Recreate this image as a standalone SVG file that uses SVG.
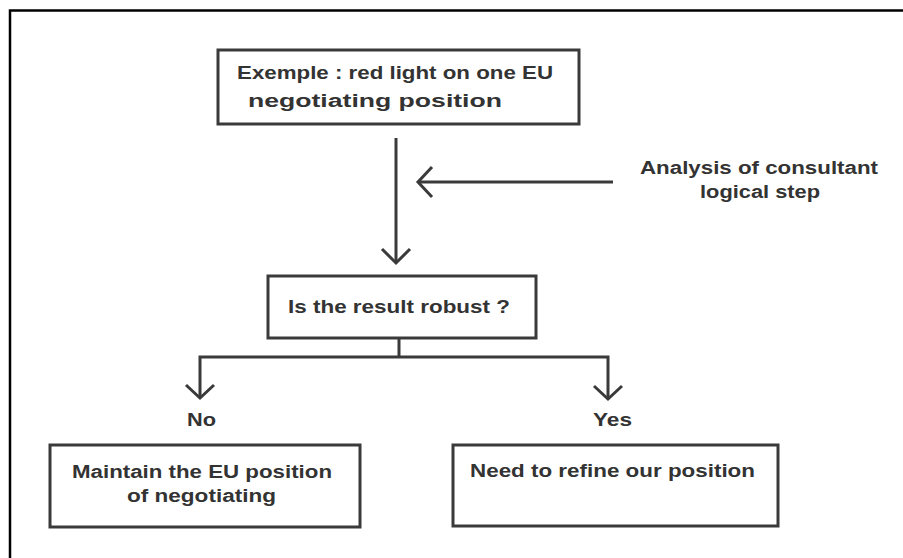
<svg xmlns="http://www.w3.org/2000/svg" width="903" height="558" viewBox="0 0 903 558">
<style>
.box{fill:#fff;stroke:#3a3a3a;stroke-width:3}
.ln{fill:none;stroke:#3a3a3a;stroke-width:3}
.t{font-family:"Liberation Sans",Arial,sans-serif;font-weight:bold;font-size:18px;fill:#333}
</style>
<rect width="903" height="558" fill="#fff"/>
<path d="M10,558 V10.5 H903" fill="none" stroke="#000" stroke-width="2.5"/>
<g id="connectors">
<path class="ln" d="M396,138 V262"/>
<path class="ln" d="M382,249 L396,263 L410,249"/>
<path class="ln" d="M613,182 H420"/>
<path class="ln" d="M432,167 L418,182 L432,197"/>
<path class="ln" d="M399,338 V357 M200,397 V357 H608 V398"/>
<path class="ln" d="M186,385 L200,398 L214,385"/>
<path class="ln" d="M594,386 L608,399 L622,386"/>
</g>
<g id="n1">
<rect class="box" x="218" y="50" width="361" height="74"/>
<text class="t" x="237" y="79" textLength="316" lengthAdjust="spacingAndGlyphs">Exemple : red light on one EU</text>
<text class="t" x="248" y="107" textLength="254" lengthAdjust="spacingAndGlyphs">negotiating position</text>
</g>
<g id="n2">
<text class="t" x="640" y="174" textLength="238" lengthAdjust="spacingAndGlyphs">Analysis of consultant</text>
<text class="t" x="700" y="198" textLength="120" lengthAdjust="spacingAndGlyphs">logical step</text>
</g>
<g id="n3">
<rect class="box" x="268" y="276" width="268" height="62"/>
<text class="t" x="288" y="313" textLength="222" lengthAdjust="spacingAndGlyphs">Is the result robust ?</text>
</g>
<g id="l-no"><text class="t" x="187" y="426" textLength="29" lengthAdjust="spacingAndGlyphs">No</text></g>
<g id="l-yes"><text class="t" x="593" y="426" textLength="39" lengthAdjust="spacingAndGlyphs">Yes</text></g>
<g id="n4">
<rect class="box" x="50" y="445" width="310" height="82"/>
<text class="t" x="72" y="478" textLength="260" lengthAdjust="spacingAndGlyphs">Maintain the EU position</text>
<text class="t" x="127" y="502" textLength="149" lengthAdjust="spacingAndGlyphs">of negotiating</text>
</g>
<g id="n5">
<rect class="box" x="453" y="445" width="325" height="81"/>
<text class="t" x="470" y="477" textLength="285" lengthAdjust="spacingAndGlyphs">Need to refine our position</text>
</g>
</svg>
